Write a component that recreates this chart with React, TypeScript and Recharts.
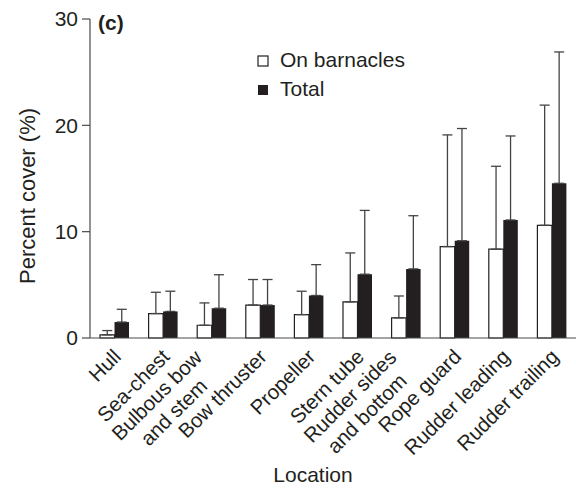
import { BarChart, Bar, XAxis, YAxis, ErrorBar } from "recharts";

const categories = [
  "Hull",
  "Sea-chest",
  "Bulbous bow\nand stem",
  "Bow thruster",
  "Propeller",
  "Stern tube",
  "Rudder sides\nand bottom",
  "Rope guard",
  "Rudder leading",
  "Rudder trailing",
];
const onBarnacles = [0.3, 2.3, 1.2, 3.1, 2.2, 3.4, 1.9, 8.6, 8.35, 10.6];
const onBarnaclesTop = [0.7, 4.3, 3.3, 5.5, 4.4, 8.0, 3.95, 19.1, 16.15, 21.9];
const total = [1.5, 2.5, 2.8, 3.1, 4.0, 6.0, 6.5, 9.15, 11.1, 14.55];
const totalTop = [2.7, 4.4, 5.95, 5.5, 6.9, 12.0, 11.5, 19.7, 19.0, 26.9];
const yTicks = [0, 10, 20, 30];

const data = categories.map((name, i) => ({
  name,
  barn: onBarnacles[i],
  barnErr: [0, onBarnaclesTop[i] - onBarnacles[i]],
  total: total[i],
  totalErr: [0, totalTop[i] - total[i]],
}));

const FONT = '"Liberation Sans", Arial, Helvetica, sans-serif';
const INK = "#231f20";

let ctx: CanvasRenderingContext2D | null = null;
const measure = (s: string, size: number) => {
  if (!ctx) ctx = document.createElement("canvas").getContext("2d");
  if (!ctx) return s.length * size * 0.5;
  ctx.font = `${size}px ${FONT}`;
  return ctx.measureText(s).width;
};

// rotated category labels, multi-line ones centred within their block
const CategoryTick = ({ x, y, payload }: any) => {
  const lines = String(payload.value).split("\n");
  const size = 20.5;
  const tr = `translate(${x + 8},${y + 20}) rotate(-45)`;
  if (lines.length === 1) {
    return (
      <g transform={tr}>
        <text x={0} y={0} textAnchor="end" fontSize={size} fontFamily={FONT} fill={INK}>
          {lines[0]}
        </text>
      </g>
    );
  }
  const w = Math.max(...lines.map((l) => measure(l, size)));
  return (
    <g transform={tr}>
      {lines.map((l, i) => (
        <text
          key={i}
          x={-12 - w / 2}
          y={-11 + i * 24}
          textAnchor="middle"
          fontSize={size}
          fontFamily={FONT}
          fill={INK}
        >
          {l}
        </text>
      ))}
    </g>
  );
};

export default function App() {
  return (
    <div style={{ position: "absolute", left: 0, top: 0, width: 576, height: 494, background: "#fff" }}>
      <BarChart
        width={576}
        height={494}
        data={data}
        margin={{ top: 19, right: 0, left: 0, bottom: 0 }}
        barSize={14.5}
        barGap={0}
      >
        <XAxis
          dataKey="name"
          interval={0}
          height={156}
          tickLine={false}
          tickSize={0}
          tickMargin={0}
          axisLine={{ stroke: "#4a4a4a", strokeWidth: 1.2 }}
          tick={<CategoryTick />}
        />
        <YAxis
          width={90}
          domain={[0, 30]}
          ticks={yTicks}
          interval={0}
          tickSize={8}
          tickMargin={4}
          axisLine={{ stroke: "#4a4a4a", strokeWidth: 1.2 }}
          tickLine={{ stroke: "#4a4a4a", strokeWidth: 1.2 }}
          tick={{ fontSize: 21, fontFamily: FONT, fill: INK }}
        />
        <Bar dataKey="barn" fill="#ffffff" stroke={INK} strokeWidth={1.2} isAnimationActive={false}>
          <ErrorBar dataKey="barnErr" width={5} stroke="#444" strokeWidth={1.3} direction="y" />
        </Bar>
        <Bar dataKey="total" fill={INK} isAnimationActive={false}>
          <ErrorBar dataKey="totalErr" width={5} stroke="#444" strokeWidth={1.3} direction="y" />
        </Bar>

        <text
          x={27}
          y={196}
          transform="rotate(-90, 27, 196)"
          textAnchor="middle"
          dominantBaseline="central"
          fontSize={22}
          fontFamily={FONT}
          fill={INK}
        >
          Percent cover (%)
        </text>
        <text x={98} y={30} fontSize={21} fontWeight="bold" fontFamily={FONT} fill={INK}>
          (c)
        </text>
        <text x={313} y={482} textAnchor="middle" fontSize={21} fontFamily={FONT} fill={INK}>
          Location
        </text>

        <rect x={258} y={56} width={10} height={10} fill="#fff" stroke={INK} strokeWidth={1.2} />
        <text x={280} y={67} fontSize={21} fontFamily={FONT} fill={INK}>
          On barnacles
        </text>
        <rect x={258} y={85} width={10} height={10} fill={INK} />
        <text x={280} y={96} fontSize={21} fontFamily={FONT} fill={INK}>
          Total
        </text>
      </BarChart>
    </div>
  );
}
